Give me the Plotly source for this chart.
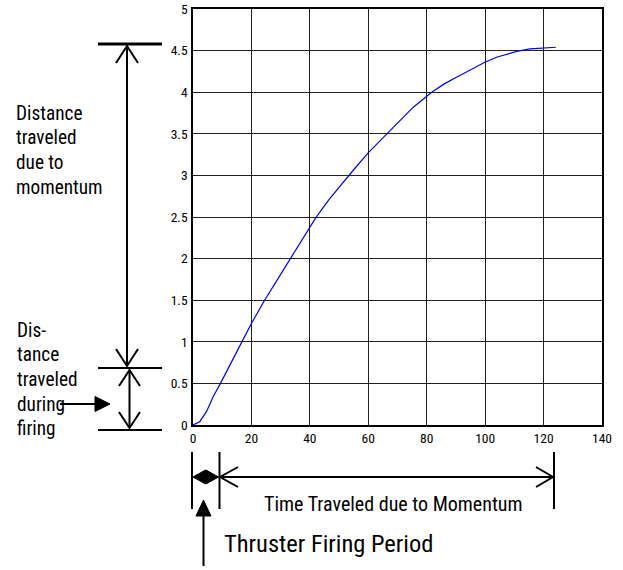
import plotly.graph_objects as go

# ---- data ----
time_s = [0, 2.3, 4.6, 6.9, 9.4, 13.1, 16.6, 20, 24.5, 29.1, 33.1, 37.7, 42, 46.8, 51.9,
          56, 60.2, 65.7, 70, 75.4, 81.7, 86, 90.2, 95, 99.9, 103.9, 107.5, 110.8, 115.3, 119.9, 124.2]
distance = [0, 0.04, 0.16, 0.34, 0.5, 0.76, 0.99, 1.22, 1.5, 1.76, 1.99, 2.24, 2.49, 2.72, 2.94,
            3.11, 3.28, 3.48, 3.63, 3.82, 4.00, 4.10, 4.18, 4.27, 4.36, 4.42, 4.46, 4.49, 4.52, 4.535, 4.54]
x_ticks = [0, 20, 40, 60, 80, 100, 120, 140]
y_ticks = [0, 0.5, 1, 1.5, 2, 2.5, 3, 3.5, 4, 4.5, 5]
y_tick_labels = ["0", "0.5", "1", "1.5", "2", "2.5", "3", "3.5", "4", "4.5", "5"]
label_momentum = ["Distance", "traveled", "due to", "momentum"]
label_firing = ["Dis-", "tance", "traveled", "during", "firing"]
label_time = "Time Traveled due to Momentum"
label_period = "Thruster Firing Period"

W, H = 623, 570
L, R, T, B = 193, 21, 9, 145
PW, PH = W - L - R, H - T - B

def px(x):
    return (x - L) / PW

def py(y):
    return (H - B - y) / PH

FONT = "Roboto Condensed, Liberation Sans, Arial, sans-serif"

fig = go.Figure()
fig.add_trace(go.Scatter(x=time_s, y=distance, mode="lines",
                         line=dict(color="#0000ff", width=1.2),
                         showlegend=False, hoverinfo="skip"))

shapes = []

def line(x0, y0, x1, y1, w=2):
    shapes.append(dict(type="line", xref="paper", yref="paper",
                       x0=px(x0), y0=py(y0), x1=px(x1), y1=py(y1),
                       line=dict(color="black", width=w)))

def poly(points, fill=True, w=2):
    d = "M " + " L ".join(f"{px(a):.5f},{py(b):.5f}" for a, b in points)
    if fill:
        d += " Z"
    shapes.append(dict(type="path", xref="paper", yref="paper", path=d,
                       fillcolor="black" if fill else "rgba(0,0,0,0)",
                       line=dict(color="black", width=w if not fill else 1)))

# left side bars
line(98, 44, 162, 44, 3)
line(98, 368, 162, 368, 2)
line(98, 430, 162, 430, 2)
# upper double arrow
line(127, 46, 127, 366, 2)
poly([(116, 63), (127, 46), (138, 63)], fill=False)
poly([(116, 349), (127, 366), (138, 349)], fill=False)
# lower double arrow
line(129.5, 370, 129.5, 428, 2)
poly([(119, 386), (129.5, 370), (140, 386)], fill=False)
poly([(119, 412), (129.5, 428), (140, 412)], fill=False)
# filled arrow pointing right
line(60, 404, 97, 404, 2)
poly([(95, 396.5), (110, 404), (95, 411.5)])

# bottom verticals
for xv in (192, 219.5, 554):
    line(xv, 452, xv, 509, 2)
# long horizontal double arrow
line(220, 477, 553, 477, 2)
poly([(238, 467), (220, 477), (238, 487)], fill=False)
poly([(536, 467), (553, 477), (536, 487)], fill=False)
# small filled double arrow
poly([(193, 477), (205.5, 470), (205.5, 484)])
poly([(218.5, 477), (206, 470), (206, 484)])
line(200, 477, 212, 477, 2)
# upward arrow
line(203.5, 566, 203.5, 514, 2)
poly([(196, 516), (203.5, 500), (211, 516)])

annotations = []

def text(s, x, y, size, xanchor="left"):
    annotations.append(dict(text=s, xref="paper", yref="paper", x=px(x), y=py(y),
                            xanchor=xanchor, yanchor="middle", showarrow=False,
                            font=dict(family=FONT, size=size, color="black")))

for i, s in enumerate(label_momentum):
    text(s, 14, 113 + 24.7 * i, 19.3)
for i, s in enumerate(label_firing):
    text(s, 15, 330 + 24.7 * i, 19.3)
text(label_time, 393.5, 504, 20, xanchor="center")
text(label_period, 222, 543, 24.5)

axis_common = dict(showgrid=True, gridcolor="#222222", gridwidth=1, showline=True,
                   linecolor="black", linewidth=1.5, mirror=True, zeroline=False,
                   ticks="", automargin=False, fixedrange=True,
                   tickfont=dict(family=FONT, size=13.5, color="black"))

fig.update_layout(
    width=W, height=H,
    margin=dict(l=L, r=R, t=T, b=B),
    paper_bgcolor="white", plot_bgcolor="white",
    shapes=shapes, annotations=annotations,
    xaxis=dict(range=[0, 140], tickvals=x_ticks, **axis_common),
    yaxis=dict(range=[0, 5], tickvals=y_ticks, ticktext=y_tick_labels,
               ticklabelstandoff=1, **axis_common),
)

fig.write_html("out.html")
